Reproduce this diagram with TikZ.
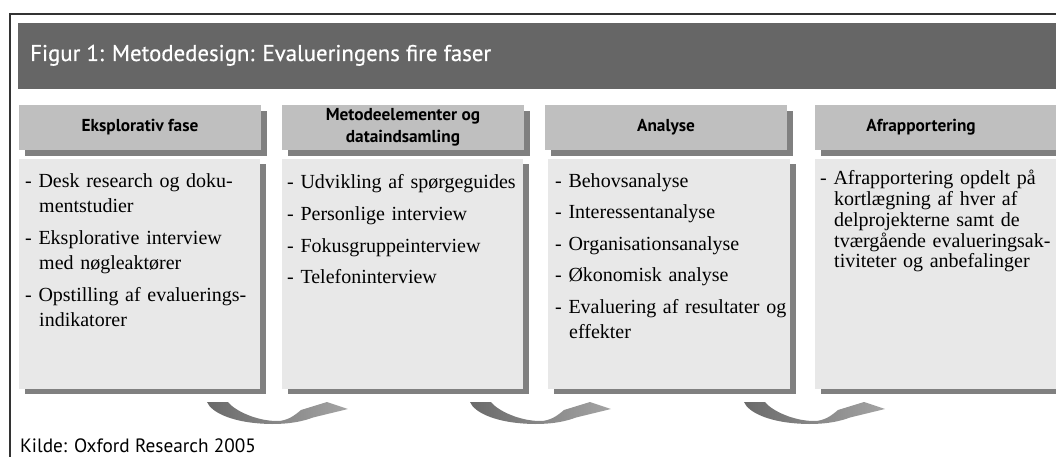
\documentclass[tikz,border=0pt]{standalone}
\usepackage{fontspec}
\setmainfont{Liberation Serif}
\newfontfamily\hdrfont{PT Sans}
\newfontfamily\titlefont[FakeBold=0.6]{PT Sans}
\usetikzlibrary{shadows}
\definecolor{framec}{HTML}{333333}
\definecolor{titlebar}{HTML}{666666}
\definecolor{hdrfill}{HTML}{BFBFBF}
\definecolor{shadowc}{HTML}{808080}
\definecolor{bodyfill}{HTML}{E8E8E8}
\definecolor{arrowdark}{HTML}{6A6A6A}
\definecolor{arrowlight}{HTML}{A4A4A4}
\newcommand{\ind}{\hspace*{14pt}}
\tikzset{
  hdrbox/.style={draw=none, fill=hdrfill, anchor=north west, minimum width=242pt, minimum height=45pt, inner sep=0pt,
    drop shadow={shadow xshift=6pt, shadow yshift=-6pt, opacity=1, fill=shadowc}},
  bodybox/.style={draw=none, fill=bodyfill, anchor=north west, minimum width=241pt, minimum height=230pt, inner sep=0pt,
    drop shadow={shadow xshift=6pt, shadow yshift=-5pt, opacity=1, fill=shadowc}},
  hdrtext/.style={font=\hdrfont\bfseries\fontsize{17.3}{22}\selectfont, align=center, inner sep=0pt},
  bodytext/.style={font=\fontsize{20}{25}\selectfont, align=left, text width=240pt, inner sep=0pt, anchor=base west},
  curvarrow/.pic={
    \shade[left color=arrowdark, right color=arrowlight]
      (0,0) .. controls (4,10) and (25,21.5) .. (65,22)
      .. controls (84,22) and (97,19) .. (106,15.5)
      -- (141,7) -- (120,0) -- (94,8)
      .. controls (87,14) and (80,19) .. (70,19)
      .. controls (50,19) and (28,9) .. (21,0) -- cycle;
  }
}
\begin{document}
\begin{tikzpicture}[x=1pt, y=-1pt]
\useasboundingbox (0,0) rectangle (1056,457);
\clip (0,0) rectangle (1056,457);
% frame
\draw[framec, line width=1.3pt] (10,470) -- (10,14) -- (1070,14);
% title bar
\node[fill=titlebar, anchor=north west, minimum width=1050pt, minimum height=66pt, inner sep=0pt] (title) at (18,23) {};
\node[anchor=base west, inner sep=0pt, text=white, font=\titlefont\fontsize{22.8}{26}\selectfont] (titletext) at (30,61) {Figur 1: Metodedesign: Evalueringens fire faser};
% headers
\node[hdrbox] (h1) at (19,105) {};
\node[hdrbox] (h2) at (282,105) {};
\node[hdrbox] (h3) at (545,105) {};
\node[hdrbox, minimum width=260pt] (h4) at (815,105) {};
\node[hdrtext] (h1t) at (140,127.5) {Eksplorativ fase};
\node[hdrtext] (h2t) at (403,127) {Metodeelementer og\\dataindsamling};
\node[hdrtext] (h3t) at (666,127.5) {Analyse};
\node[hdrtext] (h4t) at (921,127.5) {Afrapportering};
% bodies
\node[bodybox] (b1) at (19,159) {};
\node[bodybox] (b2) at (282,159) {};
\node[bodybox, minimum width=242pt] (b3) at (548,159) {};
\node[bodybox, minimum width=260pt] (b4) at (815,159) {};
\node[bodytext] (t1) at (25,187) {- Desk research og doku-\\\ind mentstudier\\[7pt]- Eksplorative interview\\\ind med nøgleaktører\\[7pt]- Opstilling af evaluerings-\\\ind indikatorer};
\node[bodytext] (t2) at (287,189) {- Udvikling af spørgeguides\\[6.5pt]- Personlige interview\\[6.5pt]- Fokusgruppeinterview\\[6.5pt]- Telefoninterview};
\node[bodytext] (t3) at (555,187) {- Behovsanalyse\\[6.5pt]- Interessentanalyse\\[6.5pt]- Organisationsanalyse\\[6.5pt]- Økonomisk analyse\\[6.5pt]- Evaluering af resultater og\\\ind effekter};
\node[bodytext, font=\fontsize{20}{20.7}\selectfont] (t4) at (820,185) {- Afrapportering opdelt på\\\ind kortlægning af hver af\\\ind delprojekterne samt de\\\ind tværgående evalueringsak-\\\ind tiviteter og anbefalinger};
% arrows
\pic at (207,402) {curvarrow};
\pic at (470,402) {curvarrow};
\pic at (744,402) {curvarrow};
% source
\node[anchor=base west, inner sep=0pt, font=\hdrfont\fontsize{19.3}{22}\selectfont] (src) at (20,452) {Kilde: Oxford Research 2005};
\end{tikzpicture}
\end{document}
